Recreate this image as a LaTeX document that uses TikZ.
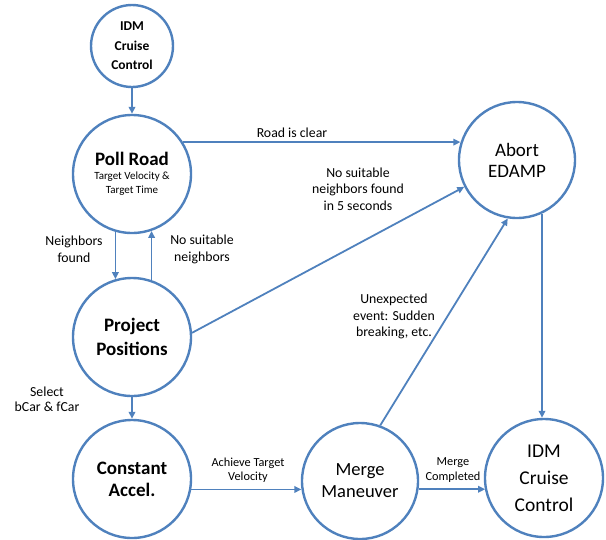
\documentclass[tikz,border=0pt]{standalone}
\usepackage{fontspec}
\setmainfont{Carlito}
\usetikzlibrary{arrows.meta}
\definecolor{edampblue}{RGB}{79,129,189}
\begin{document}
\begin{tikzpicture}[x=1pt,y=-1pt,
    state/.style={draw=edampblue,line width=2.4pt,circle,inner sep=0pt,align=center},
    trans/.style={draw=edampblue,line width=1.8pt,-{Triangle[length=7pt,width=6.5pt]}},
    lbl/.style={align=center,font=\fontsize{13.8}{16.5}\selectfont},
    smalllbl/.style={align=center,font=\fontsize{12.3}{14.5}\selectfont}]
    \useasboundingbox (0,0) rectangle (606,539);
    % states
    \node[state,minimum size=82pt,font=\bfseries\fontsize{13.5}{19.5}\selectfont] (idmtop) at (132,46) {IDM\\Cruise\\Control};
    \node[state,minimum size=118pt,font=\fontsize{11}{14}\selectfont] (poll) at (132,174)
        {{\bfseries\fontsize{19}{22}\selectfont Poll Road}\\Target Velocity \&\\Target Time};
    \node[state,minimum size=118pt,font=\bfseries\fontsize{19}{24}\selectfont] (proj) at (132,337) {Project\\Positions};
    \node[state,minimum size=118pt,font=\bfseries\fontsize{19}{22}\selectfont] (const) at (132,479) {Constant\\Accel.};
    \node[state,minimum size=116pt,font=\fontsize{18.5}{22}\selectfont] (merge) at (360,481) {Merge\\Maneuver};
    \node[state,minimum size=118pt,font=\fontsize{19.5}{27}\selectfont] (idm) at (544,478) {IDM\\Cruise\\Control};
    \node[state,minimum size=116pt,font=\fontsize{19}{21}\selectfont] (abort) at (517,160) {Abort\\EDAMP};
    % transitions
    \draw[trans] (idmtop) -- (poll);
    \draw[trans] (poll.32) -- (poll.32 -| abort.163);
    \draw[trans] (poll.254) -- (poll.254 |- proj.106);
    \draw[trans] (proj.71) -- (proj.71 |- poll.289);
    \draw[trans] (proj.4) -- (abort.207);
    \draw[trans] (proj) -- (const);
    \draw[trans] (const.350) -- (const.350 -| merge.188);
    \draw[trans] (merge.70) -- (abort.261);
    \draw[trans] (merge.352) -- (merge.352 -| idm.192);
    \draw[trans] (abort.295) -- (abort.295 |- idm.north);
    % labels
    \node[lbl] (clear) at (292,133) {Road is clear};
    \node[lbl] (timeout) at (358,189) {No suitable\\neighbors found\\in 5 seconds};
    \node[lbl] (found) at (74,249.5) {Neighbors\\found};
    \node[lbl] (nonbr) at (202,249.5) {No suitable\\neighbors};
    \node[lbl,font=\fontsize{13.8}{15.5}\selectfont] (select) at (47,399.5) {Select\\bCar \& fCar};
    \node[smalllbl] (achieve) at (248,470) {Achieve Target\\Velocity};
    \node[lbl] (unexp) at (394,316.5) {Unexpected\\event: Sudden\\breaking, etc.};
    \node[smalllbl] (done) at (453,470) {Merge\\Completed};
\end{tikzpicture}
\end{document}
